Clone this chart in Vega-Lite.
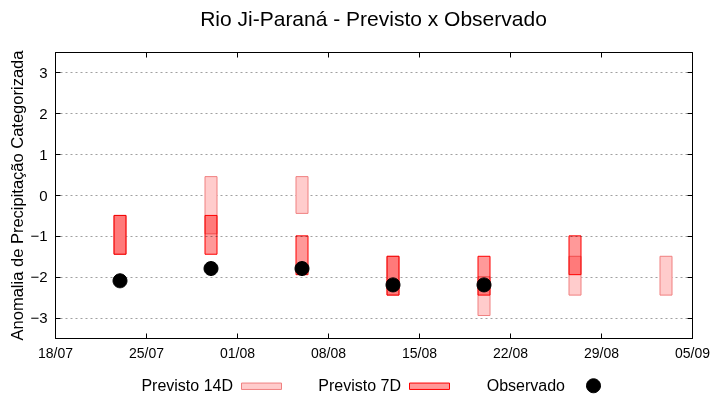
{
  "$schema": "https://vega.github.io/schema/vega-lite/v6.json",
  "width": 637,
  "height": 286,
  "autosize": {"type": "none"},
  "padding": {"left": 55, "top": 52, "right": 28, "bottom": 62},
  "background": "white",
  "title": {"text": "Rio Ji-Paraná - Previsto x Observado", "font": "Liberation Sans", "fontSize": 21, "fontWeight": "normal", "color": "black", "anchor": "middle", "offset": 20},
  "datasets": {
    "p14": [
      {"data": "2025/07/23", "serie": "Previsto 14D", "ini": -1.45, "fim": -0.5},
      {"data": "2025/07/30", "serie": "Previsto 14D", "ini": -0.95, "fim": 0.45},
      {"data": "2025/08/06", "serie": "Previsto 14D", "ini": -0.45, "fim": 0.45},
      {"data": "2025/08/13", "serie": "Previsto 14D", "ini": -2.45, "fim": -1.5},
      {"data": "2025/08/20", "serie": "Previsto 14D", "ini": -2.95, "fim": -2.0},
      {"data": "2025/08/27", "serie": "Previsto 14D", "ini": -2.45, "fim": -1.5},
      {"data": "2025/09/03", "serie": "Previsto 14D", "ini": -2.45, "fim": -1.5}
    ],
    "p7": [
      {"data": "2025/07/23", "serie": "Previsto 7D", "ini": -1.45, "fim": -0.5},
      {"data": "2025/07/30", "serie": "Previsto 7D", "ini": -1.45, "fim": -0.5},
      {"data": "2025/08/06", "serie": "Previsto 7D", "ini": -1.95, "fim": -1.0},
      {"data": "2025/08/13", "serie": "Previsto 7D", "ini": -2.45, "fim": -1.5},
      {"data": "2025/08/20", "serie": "Previsto 7D", "ini": -2.45, "fim": -1.5},
      {"data": "2025/08/27", "serie": "Previsto 7D", "ini": -1.95, "fim": -1.0}
    ],
    "obs": [
      {"data": "2025/07/23", "serie": "Observado", "valor": -2.1},
      {"data": "2025/07/30", "serie": "Observado", "valor": -1.8},
      {"data": "2025/08/06", "serie": "Observado", "valor": -1.8},
      {"data": "2025/08/13", "serie": "Observado", "valor": -2.2},
      {"data": "2025/08/20", "serie": "Observado", "valor": -2.2}
    ]
  },
  "config": {
    "view": {"stroke": "black", "strokeWidth": 1},
    "axis": {"domainColor": "black", "tickColor": "black", "labelColor": "black", "titleColor": "black", "tickSize": -5, "labelOverlap": false, "labelFlush": false},
    "legend": {
      "orient": "none", "legendX": 186, "legendY": 313, "direction": "horizontal", "columns": 3,
      "labelFont": "Liberation Sans", "labelFontSize": 16, "labelColor": "black",
      "symbolSize": 1600, "symbolStrokeWidth": 1, "labelAlign": "right", "labelOffset": -49,
      "columnPadding": 34, "title": null
    }
  },
  "resolve": {"axis": {"x": "independent", "y": "independent"}},
  "layer": [
    {
      "data": {"name": "p14"},
      "mark": {"type": "bar", "width": 12, "strokeWidth": 1},
      "encoding": {
        "x": {"field": "data", "type": "temporal",
          "scale": {"domain": [{"year": 2025, "month": 7, "date": 18}, {"year": 2025, "month": 9, "date": 5}], "padding": 0, "nice": false},
          "axis": {"orient": "top", "labels": false, "title": null, "grid": false,
            "values": [{"year": 2025, "month": 7, "date": 18}, {"year": 2025, "month": 7, "date": 25}, {"year": 2025, "month": 8, "date": 1}, {"year": 2025, "month": 8, "date": 8}, {"year": 2025, "month": 8, "date": 15}, {"year": 2025, "month": 8, "date": 22}, {"year": 2025, "month": 8, "date": 29}, {"year": 2025, "month": 9, "date": 5}]}},
        "y": {"field": "ini", "type": "quantitative", "scale": {"domain": [-3.5, 3.5], "nice": false, "zero": false, "padding": 0},
          "axis": {"orient": "right", "labels": false, "title": null, "grid": false, "values": [-3, -2, -1, 0, 1, 2, 3]}},
        "y2": {"field": "fim"},
        "fill": {"field": "serie", "type": "nominal", "scale": {"domain": ["Previsto 14D", "Previsto 7D", "Observado"], "range": ["#ffcccc", "#ff9999", "#000000"]}},
        "stroke": {"field": "serie", "type": "nominal", "scale": {"domain": ["Previsto 14D", "Previsto 7D", "Observado"], "range": ["#f08080", "#ff0000", "#000000"]}}
      }
    },
    {
      "data": {"name": "p7"},
      "mark": {"type": "bar", "width": 12, "strokeWidth": 1, "blend": "multiply"},
      "encoding": {
        "x": {"field": "data", "type": "temporal",
          "axis": {"orient": "bottom", "title": null, "grid": false, "format": "%d/%m",
            "labelFont": "Liberation Sans", "labelFontSize": 14, "labelPadding": 13,
            "values": [{"year": 2025, "month": 7, "date": 18}, {"year": 2025, "month": 7, "date": 25}, {"year": 2025, "month": 8, "date": 1}, {"year": 2025, "month": 8, "date": 8}, {"year": 2025, "month": 8, "date": 15}, {"year": 2025, "month": 8, "date": 22}, {"year": 2025, "month": 8, "date": 29}, {"year": 2025, "month": 9, "date": 5}]}},
        "y": {"field": "ini", "type": "quantitative",
          "axis": {"orient": "left", "title": "Anomalia de Precipitação Categorizada", "titleFont": "Liberation Sans", "titleFontSize": 16.5, "titleFontWeight": "normal", "titlePadding": 4,
            "labelFont": "Liberation Sans", "labelFontSize": 15, "labelPadding": 13,
            "grid": true, "gridColor": "#a0a0a0", "gridDash": [2, 3], "gridWidth": 1, "values": [-3, -2, -1, 0, 1, 2, 3]}},
        "y2": {"field": "fim"},
        "fill": {"field": "serie", "type": "nominal"},
        "stroke": {"field": "serie", "type": "nominal"}
      }
    },
    {
      "data": {"name": "obs"},
      "mark": {"type": "point", "filled": true, "size": 1600, "opacity": 1, "strokeWidth": 1},
      "encoding": {
        "x": {"field": "data", "type": "temporal", "axis": null},
        "y": {"field": "valor", "type": "quantitative", "axis": null},
        "fill": {"field": "serie", "type": "nominal"},
        "stroke": {"field": "serie", "type": "nominal"},
        "shape": {"field": "serie", "type": "nominal", "scale": {"domain": ["Previsto 14D", "Previsto 7D", "Observado"], "range": ["M-1,-0.16H1V0.16H-1Z", "M-1,-0.16H1V0.16H-1Z", "M-0.35,0A0.35,0.35 0 1,0 0.35,0A0.35,0.35 0 1,0 -0.35,0Z"]}}
      }
    }
  ]
}
